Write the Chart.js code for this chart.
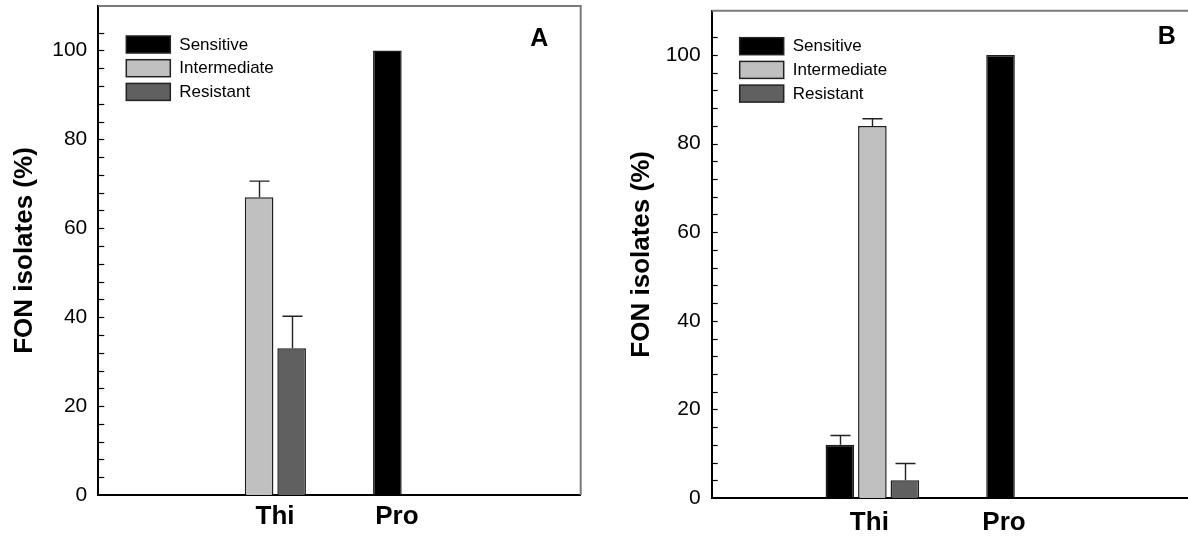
<!DOCTYPE html>
<html>
<head>
<meta charset="utf-8">
<script src="https://cdn.jsdelivr.net/npm/chart.js@4.4.1/dist/chart.umd.min.js"></script>
<style>
html, body { margin: 0; padding: 0; background: #fff; overflow: hidden; }
body { width: 1188px; height: 538px; position: relative; }
.panel { position: absolute; top: 0; height: 538px; }
#panelA { left: 0; width: 600px; }
#panelB { left: 600px; width: 620px; }
</style>
</head>
<body>
<div class="panel" id="panelA"><canvas id="chartA"></canvas></div>
<div class="panel" id="panelB"><canvas id="chartB"></canvas></div>
<script>
// Data

var categories = ['', 'Thi', 'Pro', '']
var seriesNames = ['Sensitive', 'Intermediate', 'Resistant']
var seriesColors = ['#000000', '#c0c0c0', '#606060']
var yTicksMajor = [0, 20, 40, 60, 80, 100]

// panel A
var sensitiveA = [null, 0, 100, null]
var intermediateA = [null, 67, 0, null]
var resistantA = [null, 33, 0, null]
var sensitiveErrA = [null, null, null, null]
var intermediateErrA = [null, 3.6, null, null]
var resistantErrA = [null, 7.2, null, null]

// panel B
var sensitiveB = [null, 12, 100, null]
var intermediateB = [null, 84, 0, null]
var resistantB = [null, 4, 0, null]
var sensitiveErrB = [null, 2.1, null, null]
var intermediateErrB = [null, 1.6, null, null]
var resistantErrB = [null, 3.8, null, null]

var FONT = "'Liberation Sans', Arial, sans-serif"

// Drawing helpers

var panelDecor = {
    id: 'panelDecor',
    afterDatasetsDraw: function (chart, args, opts) {
        var ctx = chart.ctx
        var area = chart.chartArea
        var yScale = chart.scales.y
        var xScale = chart.scales.x

        ctx.save()

        // top and right frame
        ctx.strokeStyle = '#7a7a7a'
        ctx.lineWidth = 2
        ctx.beginPath()
        ctx.moveTo(area.left, area.top)
        ctx.lineTo(area.right, area.top)
        ctx.lineTo(area.right, area.bottom)
        ctx.stroke()

        // inside ticks
        ctx.strokeStyle = '#000'
        ctx.lineWidth = 1.2
        yScale.ticks.forEach(function (t) {
            if (t.value <= 0 || t.value % 4 !== 0) return
            var y = Math.round(yScale.getPixelForValue(t.value)) + 0.5
            ctx.beginPath()
            ctx.moveTo(area.left, y)
            ctx.lineTo(area.left + 6, y)
            ctx.stroke()
        })

        // error bars
        ctx.strokeStyle = '#222'
        ctx.lineWidth = 1.4
        opts.errors.forEach(function (errs, i) {
            var meta = chart.getDatasetMeta(i)
            var values = chart.data.datasets[i].data
            errs.forEach(function (err, j) {
                if (err == null || values[j] == null) return
                var bar = meta.data[j]
                var top = yScale.getPixelForValue(values[j] + err)
                var x = Math.round(bar.x) + 0.5
                ctx.beginPath()
                ctx.moveTo(x, bar.y)
                ctx.lineTo(x, top)
                ctx.moveTo(x - 10, top)
                ctx.lineTo(x + 10, top)
                ctx.stroke()
            })
        })

        // legend
        var lx = area.left + opts.legendX
        var ly = area.top + opts.legendY
        ctx.font = '17px ' + FONT
        ctx.textBaseline = 'middle'
        ctx.textAlign = 'left'
        chart.data.datasets.forEach(function (ds, i) {
            var y = ly + i * 23.7
            ctx.fillStyle = ds.backgroundColor
            ctx.fillRect(lx, y, 44, 17)
            ctx.strokeStyle = '#222'
            ctx.lineWidth = 1.5
            ctx.strokeRect(lx, y, 44, 17)
            ctx.fillStyle = '#000'
            ctx.fillText(ds.label, lx + 53, y + 9)
        })

        // panel letter
        ctx.font = 'bold 25px ' + FONT
        ctx.textAlign = 'center'
        ctx.fillText(opts.letter, area.left + opts.letterX, area.top + opts.letterY)

        // category labels
        ctx.font = 'bold 26px ' + FONT
        chart.data.labels.forEach(function (label, i) {
            if (!label) return
            var x = xScale.getPixelForValue(i) + opts.labelShift[i]
            ctx.fillText(label, x, area.bottom + opts.labelY)
        })

        ctx.restore()
    }
}

function makeChart(id, values, errors, decor, padding, yWidth, xHeight, titlePad) {
    var ctx = document.getElementById(id).getContext('2d')

    var datasets = seriesNames.map(function (name, i) {
        return {
            label: name,
            data: values[i],
            backgroundColor: seriesColors[i],
            borderColor: '#1e1e1e',
            borderWidth: 1.5,
            categoryPercentage: 0.607,
            barPercentage: 0.88,
        }
    })

    decor.errors = errors

    return new Chart(ctx, {
        type: 'bar',
        data: { labels: categories, datasets: datasets },
        plugins: [panelDecor],
        options: {
            responsive: true,
            maintainAspectRatio: false,
            animation: false,
            layout: { padding: padding },
            plugins: {
                legend: { display: false },
                tooltip: { enabled: false },
                panelDecor: decor,
            },
            scales: {
                x: {
                    type: 'category',
                    offset: false,
                    grid: { display: false, drawTicks: false },
                    border: { display: true, color: '#000', width: 2 },
                    ticks: { display: false },
                    afterFit: function (s) {
                        s.height = xHeight
                        s.paddingLeft = 0
                        s.paddingRight = 0
                    },
                },
                y: {
                    min: 0,
                    max: 110,
                    grid: { display: false, drawTicks: false },
                    border: { display: true, color: '#000', width: 2 },
                    ticks: {
                        stepSize: 4,
                        autoSkip: false,
                        padding: 11,
                        color: '#000',
                        font: { size: 21, family: FONT },
                        callback: function (v) { return yTicksMajor.indexOf(v) >= 0 ? v : '' },
                    },
                    title: {
                        display: true,
                        text: 'FON isolates (%)',
                        color: '#000',
                        font: { size: 26, weight: 'bold', family: FONT },
                        padding: { top: titlePad, bottom: 0 },
                    },
                    afterFit: function (s) {
                        s.width = yWidth
                        s.paddingTop = 0
                        s.paddingBottom = 0
                    },
                },
            },
        },
    })
}

var chartA = makeChart('chartA',
    [sensitiveA, intermediateA, resistantA],
    [sensitiveErrA, intermediateErrA, resistantErrA],
    { letter: 'A', letterX: 441, letterY: 33, legendX: 28, legendY: 30, labelShift: [0, 16, -23, 0], labelY: 22 },
    { left: 0, top: 6, right: 19.3, bottom: 0 }, 98.3, 43, 9)

var chartB = makeChart('chartB',
    [sensitiveB, intermediateB, resistantB],
    [sensitiveErrB, intermediateErrB, resistantErrB],
    { letter: 'B', letterX: 455, letterY: 26, legendX: 28, legendY: 27, labelShift: [0, -3, -29, 0], labelY: 25 },
    { left: 13.4, top: 10.7, right: 26.3, bottom: 0 }, 98.3, 40, 12.5)
</script>
</body>
</html>
